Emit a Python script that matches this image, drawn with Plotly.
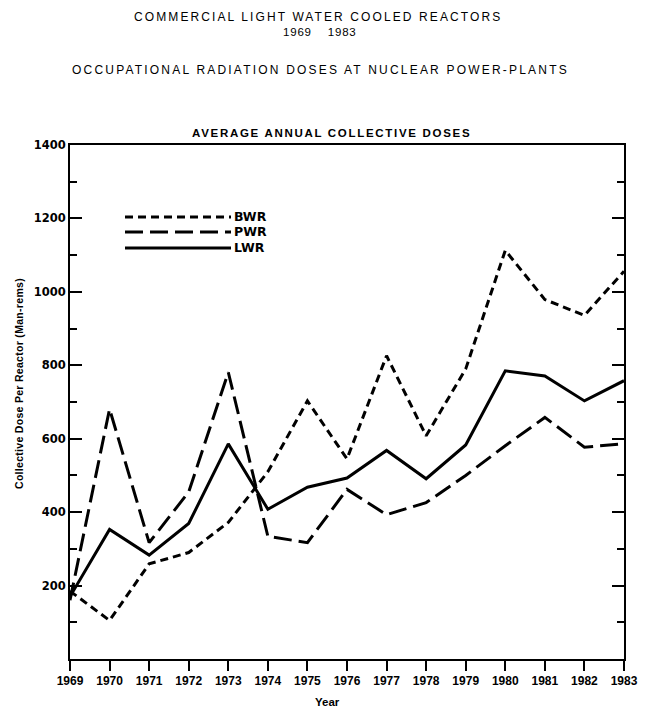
import plotly.graph_objects as go

years = list(range(1969, 1984))
bwr = [185, 105, 259, 290, 372, 510, 703, 545, 826, 608, 790, 1113, 979, 936, 1056]
pwr = [160, 681, 317, 455, 781, 334, 317, 462, 393, 426, 500, 581, 658, 577, 586]
lwr = [170, 353, 283, 369, 586, 408, 468, 493, 568, 491, 583, 785, 771, 703, 758]
series_names = ["BWR", "PWR", "LWR"]
y_ticks = [200, 400, 600, 800, 1000, 1200, 1400]

FONT = "Liberation Sans, Arial, sans-serif"
FONT_WIDE = "DejaVu Sans, Verdana, sans-serif"
styles = {"BWR": "8px,5px", "PWR": "18px,7px", "LWR": "solid"}

fig = go.Figure()
for name, vals in zip(series_names, [bwr, pwr, lwr]):
    fig.add_trace(go.Scatter(x=years, y=vals, mode="lines", name=name,
                             line=dict(color="black", width=3, dash=styles[name]),
                             showlegend=False))

# plot area in screen pixels (page body has an 8px margin)
OFF = 8
L, R, T, B = 70, 624, 145, 659
W, H = 649, 707
def px(x):
    return (x - L) / (R - L)
def py(y):
    return (B - y) / (B - T)

# manual legend
leg_y = [217, 232, 248]
for name, yy in zip(series_names, leg_y):
    fig.add_shape(type="line", xref="paper", yref="paper",
                  x0=px(125), x1=px(231), y0=py(yy), y1=py(yy),
                  line=dict(color="black", width=3, dash=styles[name]))
    fig.add_annotation(text=name, xref="paper", yref="paper", x=px(232), y=py(yy),
                       xanchor="left", yanchor="middle", showarrow=False,
                       font=dict(family=FONT_WIDE, size=12.5, color="black", weight="bold"))

def spaced(txt, ls):
    return '<span style="letter-spacing:%spx">%s</span>' % (ls, txt)

titles = [
    ("COMMERCIAL LIGHT WATER COOLED REACTORS", 318, 17, 2.1, 12, "normal"),
    ("1969    1983", 320, 32, 0.8, 11.5, "normal"),
    ("OCCUPATIONAL RADIATION DOSES AT NUCLEAR POWER-PLANTS", 320, 70, 2.2, 12, "normal"),
    ("AVERAGE ANNUAL COLLECTIVE DOSES", 331, 133, 1.7, 11.5, "bold"),
]
for txt, x, y, ls, sz, w in titles:
    fig.add_annotation(text=spaced(txt, ls), xref="paper", yref="paper", x=px(x), y=py(y),
                       xanchor="center", yanchor="middle", showarrow=False,
                       font=dict(family=FONT, size=sz, color="black", weight=w))

# axis titles
fig.add_annotation(text="Year", xref="paper", yref="paper", x=px(327), y=py(702),
                   xanchor="center", yanchor="middle", showarrow=False,
                   font=dict(family=FONT, size=11.5, color="black", weight="bold"))
fig.add_annotation(text=spaced("Collective Dose Per Reactor (Man-rems)", 0.3), textangle=-90,
                   xref="paper", yref="paper", x=px(19), y=py(384),
                   xanchor="center", yanchor="middle", showarrow=False,
                   font=dict(family=FONT, size=10.5, color="black", weight="bold"))

fig.update_layout(
    width=W, height=H,
    margin=dict(l=L - OFF, r=W - R + OFF, t=T - OFF, b=H - B + OFF),
    plot_bgcolor="white", paper_bgcolor="white",
    font=dict(family=FONT, color="black", size=11),
)
fig.update_xaxes(range=[1969, 1983], tickmode="array", tickvals=years,
                 ticktext=[str(y) for y in years],
                 ticks="outside", ticklen=10, tickwidth=2, tickcolor="black",
                 showline=True, linecolor="black", linewidth=2, mirror=True,
                 showgrid=False, zeroline=False,
                 tickfont=dict(family=FONT, size=12, weight="bold"))
fig.update_yaxes(range=[0, 1400], tickmode="array", tickvals=y_ticks,
                 ticktext=[str(v) for v in y_ticks],
                 ticks="inside", ticklen=12, tickwidth=2, tickcolor="black",
                 minor=dict(dtick=100, ticks="inside", ticklen=7, tickwidth=1.5, tickcolor="black"),
                 showline=True, linecolor="black", linewidth=2, mirror="ticks",
                 showgrid=False, zeroline=False,
                 tickfont=dict(family=FONT_WIDE, size=11.5, weight="bold"))

fig.write_html("out.html")
